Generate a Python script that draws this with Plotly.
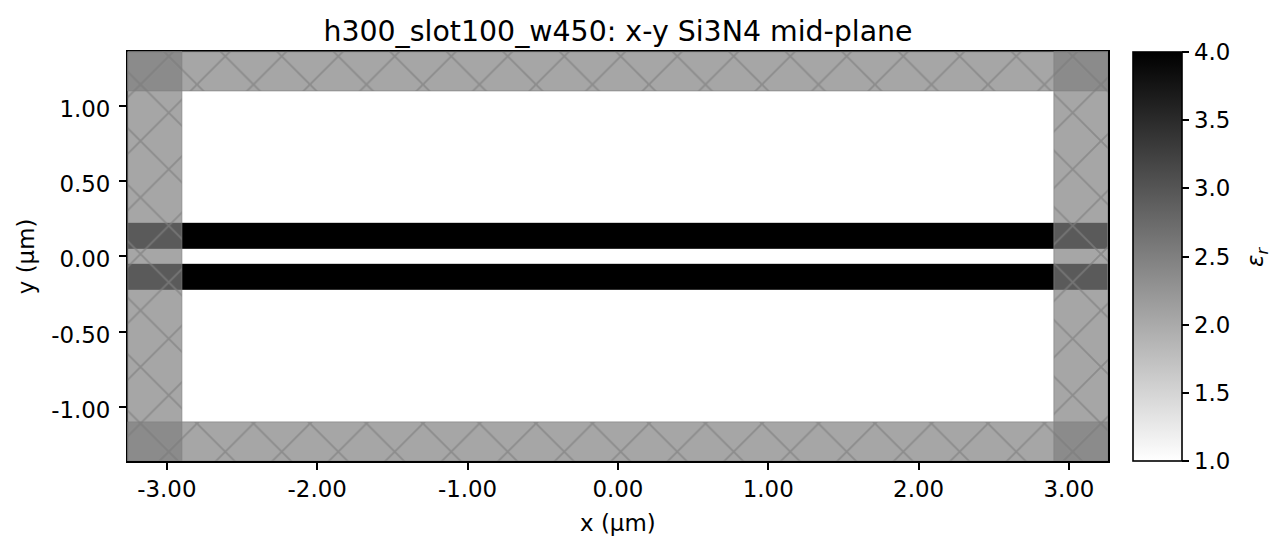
import plotly.graph_objects as go

title = "h300_slot100_w450: x-y Si3N4 mid-plane"
x_ticks = [-3, -2, -1, 0, 1, 2, 3]
y_ticks = [-1, -0.5, 0, 0.5, 1]
cbar_ticks = [1.0, 1.5, 2.0, 2.5, 3.0, 3.5, 4.0]

# permittivity map, bands along y
x_edges = [-3.26, 3.26]
y_edges = [-1.36, -0.225, -0.05, 0.05, 0.225, 1.36]
eps = [[1], [4], [1], [4], [1]]

# absorbing regions: centre x, width, bottom y, height
pml_x = [-3.08, 3.08, 0, 0]
pml_w = [0.36, 0.36, 6.52, 6.52]
pml_base = [-1.36, -1.36, -1.36, 1.1]
pml_h = [2.72, 2.72, 0.26, 0.26]

# page body has an 8px margin, so everything below is in page pixels minus 8
W, H = 1278, 544
left, right, top, bottom = 120, 1100, 44, 453
# hatch subplot starts a bit up/left of the axes so the pattern lines up
hatch_l, hatch_t = 76.25, 20.25
sx = (right - left) / (x_edges[1] - x_edges[0])
sy = (bottom - top) / (y_edges[-1] - y_edges[0])
area_w = right - hatch_l
area_h = bottom - hatch_t
tick_size = 22.9

fig = go.Figure()
fig.add_trace(go.Heatmap(x=x_edges, y=y_edges, z=eps, zmin=1, zmax=4,
                         colorscale=[[0, "white"], [1, "black"]],
                         hoverinfo="skip",
                         colorbar=dict(x=(1125 - hatch_l) / area_w, xanchor="left", y=0, yanchor="bottom",
                                       lenmode="fraction", len=(bottom - top) / area_h,
                                       thickness=49, thicknessmode="pixels",
                                       outlinecolor="black", outlinewidth=1.6,
                                       tickmode="array", tickvals=cbar_ticks, ticktext=[f"{v:.1f}" for v in cbar_ticks],
                                       ticks="outside", ticklen=7, tickwidth=1.6, tickcolor="black",
                                       xpad=0, ypad=0,
                                       tickfont=dict(size=tick_size, color="black"))))
fig.add_trace(go.Bar(x=pml_x, y=pml_h, width=pml_w, base=pml_base, xaxis="x2", yaxis="y2",
                     marker=dict(color="rgba(128,128,128,0.7)",
                                 line=dict(color="rgba(128,128,128,0.7)", width=1),
                                 pattern=dict(shape="x", size=39.95, solidity=0.09,
                                              fgcolor="rgba(128,128,128,0.7)",
                                              bgcolor="rgba(128,128,128,0.7)",
                                              fillmode="replace")),
                     showlegend=False, hoverinfo="skip"))

fig.update_layout(
    width=W, height=H, paper_bgcolor="white", plot_bgcolor="rgba(0,0,0,0)",
    margin=dict(l=hatch_l, r=W - right, t=hatch_t, b=H - bottom, pad=0),
    font=dict(family="DejaVu Sans", color="black", size=tick_size),
    barmode="overlay", showlegend=False,
    title=dict(text=title, x=610 / W, xanchor="center", y=1 - 23 / H, yanchor="middle",
               font=dict(size=28.4)),
    xaxis=dict(domain=[(left - hatch_l) / area_w, 1], range=x_edges, anchor="y",
               tickmode="array", tickvals=x_ticks, ticktext=[f"{v:.2f}" for v in x_ticks],
               ticks="outside", ticklen=7, tickwidth=1.6, tickcolor="black",
               showline=True, linecolor="black", linewidth=1.6, mirror=True,
               showgrid=False, zeroline=False,
               tickfont=dict(size=tick_size),
               title=dict(text="x (µm)", standoff=14, font=dict(size=tick_size))),
    yaxis=dict(domain=[0, (bottom - top) / area_h], range=[y_edges[0], y_edges[-1]], anchor="x",
               tickmode="array", tickvals=y_ticks, ticktext=[f"{v:.2f}" for v in y_ticks],
               ticks="outside", ticklen=7, tickwidth=1.6, tickcolor="black",
               ticklabelstandoff=4, ticklabelshift=3,
               showline=True, linecolor="black", linewidth=1.6, mirror=True,
               showgrid=False, zeroline=False,
               tickfont=dict(size=tick_size),
               title=dict(text="y (µm)", standoff=10, font=dict(size=tick_size))),
    xaxis2=dict(domain=[0, 1], range=[x_edges[0] - (left - hatch_l) / sx, x_edges[1]], anchor="y2", visible=False),
    yaxis2=dict(domain=[0, 1], range=[y_edges[0], y_edges[-1] + (top - hatch_t) / sy], anchor="x2", visible=False),
    annotations=[dict(text="<i>ε<sub>r</sub></i>", textangle=-90, xref="paper", yref="paper",
                      x=(1249 - hatch_l) / area_w, y=(bottom - 249) / area_h, xanchor="center", yanchor="middle",
                      showarrow=False, font=dict(size=tick_size))],
)

fig.write_html("out.html")
